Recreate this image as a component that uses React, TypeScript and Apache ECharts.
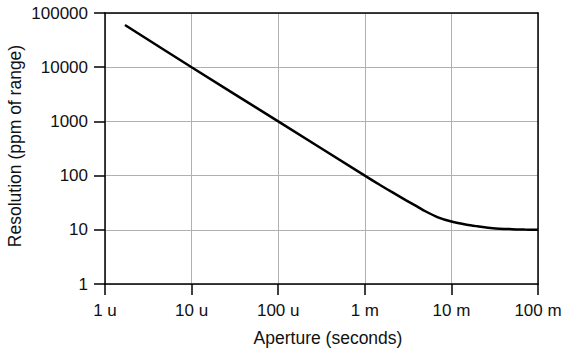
import React, { useEffect, useRef } from "react";
import * as echarts from "echarts";

const apertureSeconds = [1.7e-6, 1e-5, 1e-4, 1e-3, 1.5e-3, 2e-3, 3e-3, 4e-3, 5e-3, 7e-3, 1e-2, 1.5e-2, 2e-2, 3e-2, 5e-2, 7e-2, 1e-1];
const resolutionPpm = [60000, 10000, 1000, 100, 67, 51, 35, 27, 22, 17, 14.2, 12.4, 11.6, 10.7, 10.25, 10.1, 10];
const xTickLabels = ["1 u", "10 u", "100 u", "1 m", "10 m", "100 m"];
const yTickLabels = ["1", "10", "100", "1000", "10000", "100000"];
const xTitle = "Aperture (seconds)";
const yTitle = "Resolution (ppm of range)";

const FONT = "'Liberation Sans', Arial, Helvetica, sans-serif";

export default function App() {
  const ref = useRef<HTMLDivElement>(null);
  useEffect(() => {
    document.body.style.margin = "0";
    if (!ref.current) return;
    const chart = echarts.init(ref.current, undefined, { renderer: "svg" });
    const tickText = { color: "#111", fontSize: 17, fontFamily: FONT };
    chart.setOption({
      animation: false,
      backgroundColor: "#fff",
      grid: { left: 105, right: 29, top: 13, bottom: 71 },
      xAxis: [
        {
          type: "log",
          logBase: 10,
          min: 1e-6,
          max: 1e-1,
          axisLine: { show: true, lineStyle: { color: "#000", width: 1.5 } },
          axisTick: { show: true, length: 11, lineStyle: { color: "#000", width: 1.5 } },
          minorTick: { show: false },
          splitLine: { show: true, lineStyle: { color: "#b0b0b0", width: 1 } },
          axisLabel: {
            ...tickText,
            margin: 18,
            formatter: (v: number) => xTickLabels[Math.round(Math.log10(v)) + 6] ?? "",
          },
        },
        {
          type: "log",
          logBase: 10,
          min: 1e-6,
          max: 1e-1,
          position: "top",
          axisLine: { show: true, lineStyle: { color: "#000", width: 1.5 } },
          axisTick: { show: false },
          axisLabel: { show: false },
          splitLine: { show: false },
        },
      ],
      yAxis: [
        {
          type: "log",
          logBase: 10,
          min: 1,
          max: 100000,
          axisLine: { show: true, lineStyle: { color: "#000", width: 1.5 } },
          axisTick: { show: true, length: 11, lineStyle: { color: "#000", width: 1.5 } },
          splitLine: { show: true, lineStyle: { color: "#b0b0b0", width: 1 } },
          axisLabel: {
            ...tickText,
            margin: 17,
            formatter: (v: number) => yTickLabels[Math.round(Math.log10(v))] ?? "",
          },
        },
        {
          type: "log",
          logBase: 10,
          min: 1,
          max: 100000,
          position: "right",
          axisLine: { show: true, lineStyle: { color: "#000", width: 1.5 } },
          axisTick: { show: false },
          axisLabel: { show: false },
          splitLine: { show: false },
        },
      ],
      graphic: [
        {
          type: "text",
          x: 328,
          y: 338,
          style: {
            text: xTitle,
            fill: "#111",
            font: `17.5px ${FONT}`,
            textAlign: "center",
            textVerticalAlign: "middle",
          },
        },
        {
          type: "text",
          x: 15,
          y: 146,
          rotation: Math.PI / 2,
          style: {
            text: yTitle,
            fill: "#111",
            font: `17.5px ${FONT}`,
            textAlign: "center",
            textVerticalAlign: "middle",
          },
        },
      ],
      series: [
        {
          type: "line",
          xAxisIndex: 0,
          yAxisIndex: 0,
          data: apertureSeconds.map((x, i) => [x, resolutionPpm[i]]),
          showSymbol: false,
          smooth: 0.3,
          lineStyle: { color: "#000", width: 2.5 },
          z: 5,
        },
      ],
    });
    return () => chart.dispose();
  }, []);
  return <div ref={ref} style={{ width: 567, height: 355 }} />;
}
